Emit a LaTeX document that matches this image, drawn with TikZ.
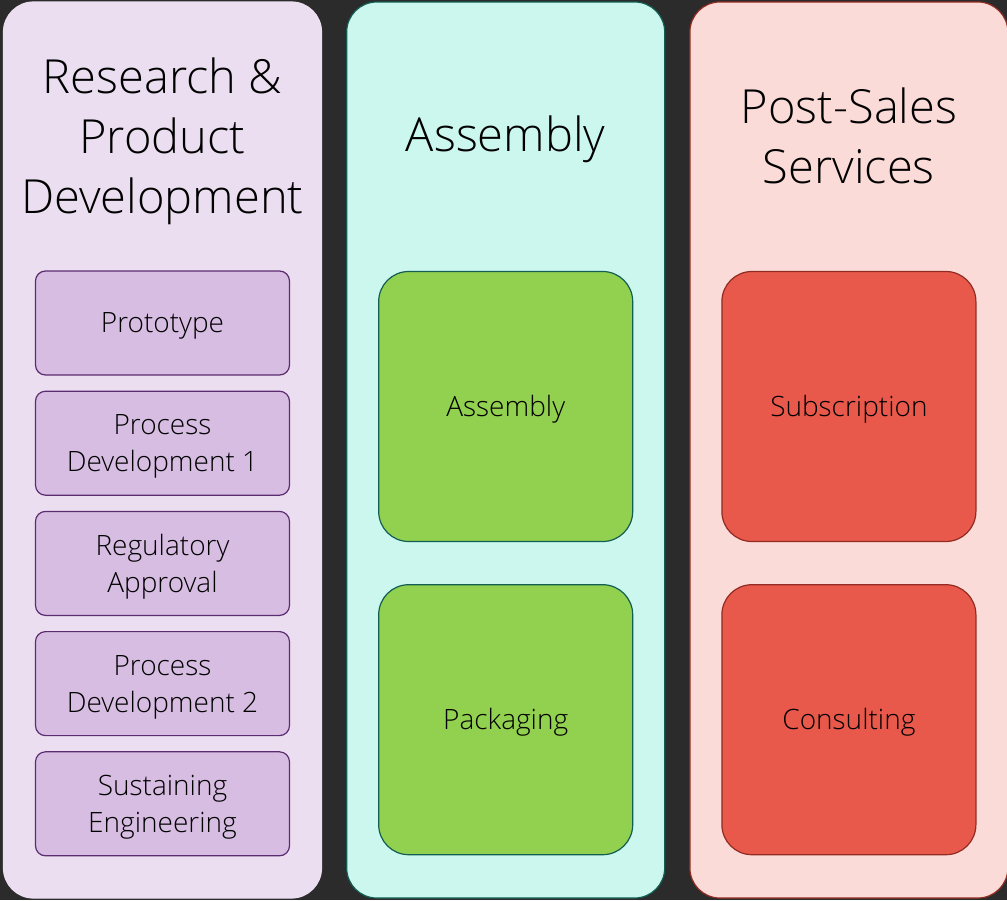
\documentclass[tikz,border=0pt]{standalone}
\usepackage{fontspec}
\setmainfont{Open Sans Light}
\usetikzlibrary{positioning}
\definecolor{bgdark}{HTML}{2B2B2B}
\definecolor{rdfill}{HTML}{EBDEF0}
\definecolor{rdbox}{HTML}{D7BDE2}
\definecolor{rdline}{HTML}{5B2C6F}
\definecolor{asfill}{HTML}{CCF7EE}
\definecolor{asbox}{HTML}{92D050}
\definecolor{asline}{HTML}{125E52}
\definecolor{psfill}{HTML}{FADBD8}
\definecolor{psbox}{HTML}{E8594B}
\definecolor{psline}{HTML}{922B21}
\tikzset{%
% Specifications for style of nodes:
lane/.style = {minimum width=318pt, minimum height=896pt, rounded corners=30pt, line width=1.2pt},
title/.style = {font=\fontsize{47}{60}\selectfont, align=center, text=black},
step box/.style = {draw=rdline, fill=rdbox, line width=1.2pt, rounded corners=10pt, minimum width=254pt, minimum height=104pt, align=center, text depth=0pt, font=\fontsize{28}{37}\selectfont},
big box/.style = {line width=1.2pt, rounded corners=30pt, minimum width=254pt, minimum height=270pt, text height=20pt, text depth=0pt, font=\fontsize{28}{34}\selectfont},
}

\begin{document}
\begin{tikzpicture}[x=1pt, y=-1pt, node distance=15pt]
        \fill[bgdark] (0,0) rectangle (1007,900);
        \useasboundingbox (0,0) rectangle (1007,900);
        % Lanes
        \node (rdLane) [lane, draw=rdfill, fill=rdfill] at (162.5,450) {};
        \node (asLane) [lane, draw=asline, fill=asfill, right=24pt of rdLane] {};
        \node (psLane) [lane, draw=psline, fill=psfill, right=24pt of asLane] {};
        % Titles
        \node (rdTitle) [title] at (162.5,141) {Research \&\\Product\\Development};
        \node (asTitle) [title] at (asLane.center |- 0,139) {Assembly};
        \node (psTitle) [title] at (psLane.center |- 0,136) {Post-Sales\\Services};
        % Research & product development steps
        \node (prototype) [step box] at (162.5,323) {Prototype};
        \node (processOne) [step box, below=of prototype] {Process\\Development 1};
        \node (regulatory) [step box, below=of processOne] {Regulatory\\Approval};
        \node (processTwo) [step box, below=of regulatory] {Process\\Development 2};
        \node (sustaining) [step box, below=of processTwo] {Sustaining\\Engineering};
        % Assembly
        \node (assembly) [big box, draw=asline, fill=asbox] at (asLane.center |- 0,406.5) {Assembly};
        \node (packaging) [big box, draw=asline, fill=asbox, below=42pt of assembly] {Packaging};
        % Post-sales services
        \node (subscription) [big box, draw=psline, fill=psbox] at (psLane.center |- assembly) {Subscription};
        \node (consulting) [big box, draw=psline, fill=psbox, below=42pt of subscription] {Consulting};
    \end{tikzpicture}
\end{document}
